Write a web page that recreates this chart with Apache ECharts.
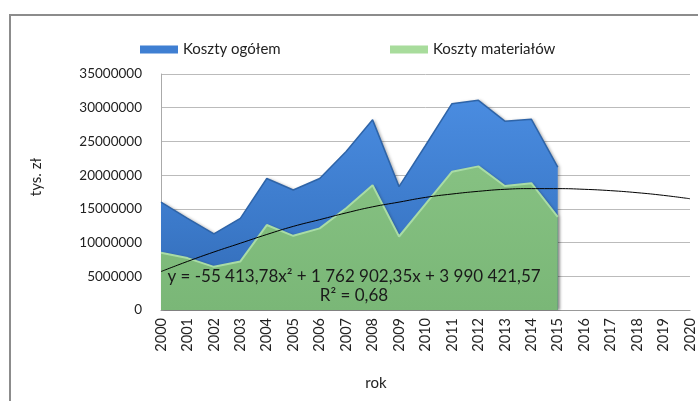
<!DOCTYPE html>
<html>
<head>
<meta charset="utf-8">
<script src="https://cdn.jsdelivr.net/npm/echarts@6/dist/echarts.min.js"></script>
<style>
  html, body { margin: 0; padding: 0; background: #fff; }
  #chart { width: 698px; height: 401px; }
</style>
</head>
<body>
<div id="chart"></div>
<script>
// lata (oś X)
var years = ["2000", "2001", "2002", "2003", "2004", "2005", "2006", "2007", "2008", "2009",
  "2010", "2011", "2012", "2013", "2014", "2015", "2016", "2017", "2018", "2019", "2020"];
// koszty ogółem, tys. zł (2000-2015)
var kosztyOgolem = [16000000, 13600000, 11300000, 13600000, 19500000, 17800000, 19500000, 23500000,
  28200000, 18300000, 24400000, 30600000, 31100000, 28000000, 28300000, 21200000];
// koszty materiałów, tys. zł (2000-2015)
var kosztyMaterialow = [8500000, 7700000, 6400000, 7200000, 12600000, 11000000, 12100000, 15100000,
  18500000, 10900000, 15700000, 20500000, 21300000, 18400000, 18800000, 13800000];
// linia trendu (2000-2020)
var trend = [5700000, 7200000, 8600000, 9900000, 11200000, 12400000, 13400000, 14400000, 15300000,
  16000000, 16700000, 17200000, 17600000, 17900000, 18000000, 18000000, 17900000, 17700000,
  17400000, 17000000, 16500000];
var yTicks = [0, 5000000, 10000000, 15000000, 20000000, 25000000, 30000000, 35000000];

var font = "Lato";
var chart = echarts.init(document.getElementById("chart"));

var option = {
  backgroundColor: "#fff",
  animation: false,
  textStyle: { fontFamily: font },
  legend: [
    {
      left: 135, top: 37,
      itemWidth: 38, itemHeight: 8,
      icon: "rect",
      textStyle: { fontFamily: font, fontSize: 15, color: "#222" },
      data: ["Koszty ogółem"]
    },
    {
      left: 385, top: 37,
      itemWidth: 38, itemHeight: 8,
      icon: "rect",
      textStyle: { fontFamily: font, fontSize: 15, color: "#222" },
      data: ["Koszty materiałów"]
    }
  ],
  grid: { left: 161, right: 8, top: 74, bottom: 91 },
  xAxis: {
    type: "category",
    boundaryGap: false,
    data: years,
    axisLine: { lineStyle: { color: "#999" } },
    axisTick: { show: false },
    splitLine: { show: false },
    axisLabel: {
      rotate: 90, interval: 0, margin: 8,
      fontFamily: font, fontSize: 14.5, color: "#222"
    }
  },
  yAxis: {
    type: "value",
    position: "left",
    min: yTicks[0], max: yTicks[yTicks.length - 1], interval: 5000000,
    name: "tys. zł",
    nameLocation: "middle",
    nameRotate: 90,
    nameGap: 117,
    nameTextStyle: { fontFamily: font, fontSize: 15, color: "#222", padding: [0, 0, 0, 30] },
    axisLine: { show: true, lineStyle: { color: "#aaa" } },
    axisTick: { show: false },
    splitLine: { lineStyle: { color: "#bbb", width: 1 } },
    axisLabel: {
      margin: 19, fontFamily: font, fontSize: 13.5, color: "#222",
      formatter: function (v) { return String(v); }
    }
  },
  graphic: [
    {
      type: "polyline", silent: true, z: -1,
      shape: { points: [[10, 420], [10, 15], [720, 15]] },
      style: { fill: "none", stroke: "#8c8c8c", lineWidth: 2 }
    },
    {
      type: "text", x: 376, y: 383,
      style: { text: "rok", fontFamily: font, fontSize: 15, fill: "#222", align: "center", verticalAlign: "middle" }
    },
    {
      type: "text", x: 354, y: 277, z: 100,
      style: { text: "y = -55 413,78x² + 1 762 902,35x + 3 990 421,57", fontFamily: font, fontSize: 17, fill: "#1a1a1a", align: "center", verticalAlign: "middle" }
    },
    {
      type: "text", x: 354, y: 296, z: 100,
      style: { text: "R² = 0,68", fontFamily: font, fontSize: 17, fill: "#1a1a1a", align: "center", verticalAlign: "middle" }
    }
  ],
  series: [
    {
      name: "Koszty ogółem",
      type: "line",
      data: kosztyOgolem,
      symbol: "none",
      z: 2,
      itemStyle: { color: "#3f7fd2" },
      lineStyle: { color: "#2e64a8", width: 1.5 },
      areaStyle: {
        opacity: 1,
        color: new echarts.graphic.LinearGradient(0, 0, 0, 1, [
          { offset: 0, color: "#4a8ce0" },
          { offset: 0.6, color: "#3b79c9" },
          { offset: 1, color: "#3169b3" }
        ]),
        shadowColor: "rgba(0,0,0,0.3)", shadowBlur: 3, shadowOffsetX: 2, shadowOffsetY: 0
      }
    },
    {
      name: "Koszty materiałów",
      type: "line",
      data: kosztyMaterialow,
      symbol: "none",
      z: 3,
      itemStyle: { color: "#a8dc9c" },
      lineStyle: { color: "#a9dca5", width: 2 },
      areaStyle: {
        opacity: 1,
        color: new echarts.graphic.LinearGradient(0, 0, 0, 1, [
          { offset: 0, color: "#86c182" },
          { offset: 1, color: "#7ab777" }
        ]),
        shadowColor: "rgba(0,0,0,0.25)", shadowBlur: 3, shadowOffsetX: 2, shadowOffsetY: 0
      }
    },
    {
      name: "trend",
      type: "line",
      data: trend,
      smooth: true,
      symbol: "none",
      z: 4,
      lineStyle: { color: "#000", width: 1 },
      itemStyle: { color: "#000" }
    }
  ]
};

chart.setOption(option);
</script>
</body>
</html>
